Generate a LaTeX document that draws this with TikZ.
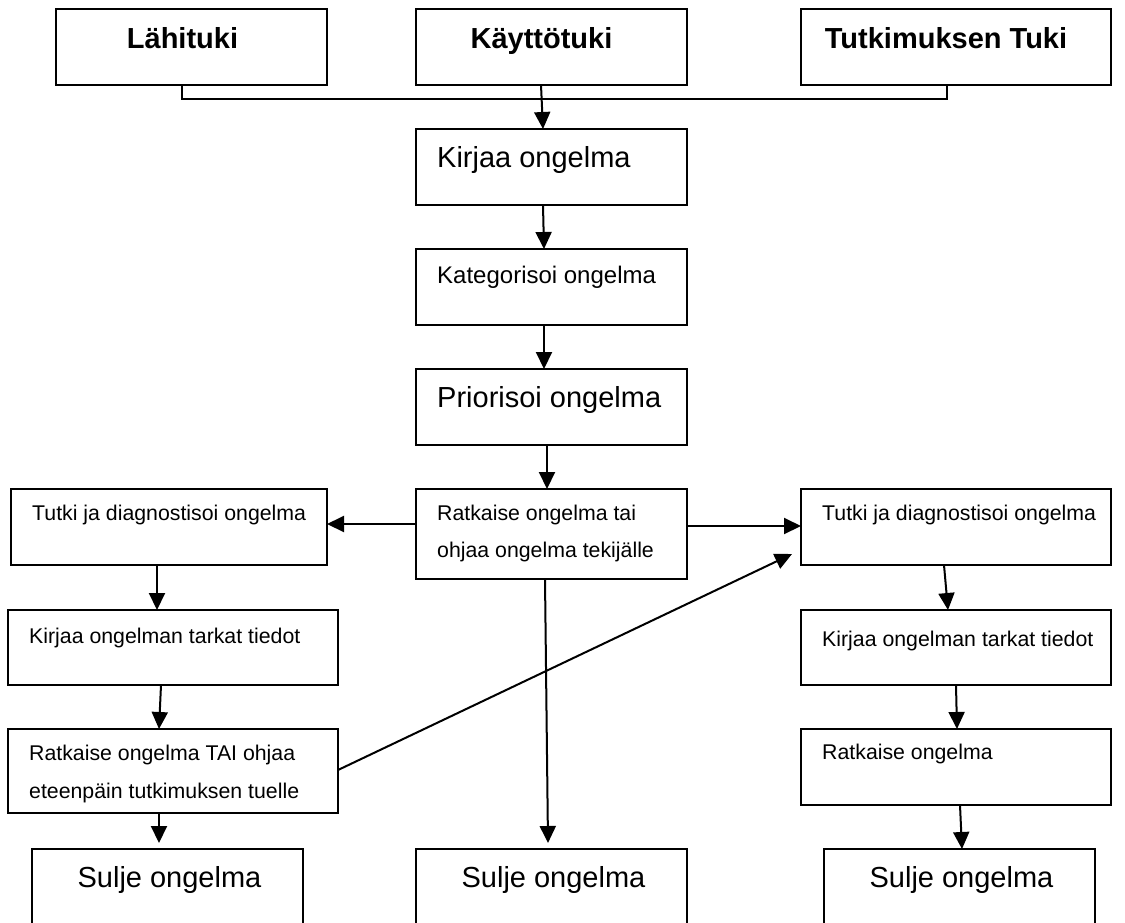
\documentclass[tikz,border=0pt]{standalone}
\usepackage{fontspec}
\setmainfont{Liberation Sans}
\usetikzlibrary{arrows.meta,calc}
\begin{document}
\begin{tikzpicture}[x=1pt,y=-1pt,
  box/.style={draw, line width=2.2pt, rectangle, anchor=north west, inner sep=0pt, outer sep=0pt},
  line/.style={line width=2.2pt},
  arr/.style={line width=2pt, -{Triangle[length=17pt,width=16pt]}},
  txt/.style={inner sep=0pt, anchor=base west, align=left},
  ctxt/.style={inner sep=0pt, anchor=base},
  bigb/.style={font=\fontsize{29}{35}\selectfont\bfseries},
  big/.style={font=\fontsize{29}{35}\selectfont},
  med/.style={font=\fontsize{24}{29}\selectfont},
  sml/.style={font=\fontsize{21.3}{37.5}\selectfont}]
\useasboundingbox (0,0) rectangle (1125,922);
\fill[white] (0,0) rectangle (1125,922);
\clip (0,0) rectangle (1125,922);
% top row
\node[box, minimum width=271pt, minimum height=76pt] (lahi) at (56,9) {};
\node[box, minimum width=271pt, minimum height=76pt] (kayt) at (416,9) {};
\node[box, minimum width=310pt, minimum height=76pt] (tutk) at (801,9) {};
\node[ctxt, bigb] (tlahi) at ($(lahi.north)+(-9,39)$) {Lähituki};
\node[ctxt, bigb] (tkayt) at ($(kayt.north)+(-10,39)$) {Käyttötuki};
\node[ctxt, bigb] (ttutk) at ($(tutk.north)+(-10,39)$) {Tutkimuksen Tuki};
% middle column
\node[box, minimum width=271pt, minimum height=76pt] (kirjaa) at (416,129) {};
\node[box, minimum width=271pt, minimum height=76pt] (kateg) at (416,249) {};
\node[box, minimum width=271pt, minimum height=76pt] (prior) at (416,369) {};
\node[box, minimum width=271pt, minimum height=90pt] (ratk) at (416,489) {};
\node[box, minimum width=271pt, minimum height=100pt] (suljeM) at (416,849) {};
\node[txt, big] (tkirjaa) at ($(kirjaa.north west)+(21,38)$) {Kirjaa ongelma};
\node[txt, med] (tkateg) at ($(kateg.north west)+(21,34)$) {Kategorisoi ongelma};
\node[txt, big] (tprior) at ($(prior.north west)+(21,38)$) {Priorisoi ongelma};
\node[txt, sml] (tratk) at ($(ratk.north west)+(21,68.5)$) {Ratkaise ongelma tai\\ohjaa ongelma tekijälle};
\node[ctxt, big] (tsuljeM) at ($(suljeM.north)+(2,38)$) {Sulje ongelma};
% left column
\node[box, minimum width=316pt, minimum height=76pt] (tutkL) at (11,489) {};
\node[box, minimum width=330pt, minimum height=75pt] (kirjL) at (8,610) {};
\node[box, minimum width=330pt, minimum height=84pt] (ratkL) at (8,729) {};
\node[box, minimum width=271pt, minimum height=100pt] (suljeL) at (32,849) {};
\node[txt, sml] (ttutkL) at ($(tutkL.north west)+(21,31)$) {Tutki ja diagnostisoi ongelma};
\node[txt, sml] (tkirjL) at ($(kirjL.north west)+(21,33)$) {Kirjaa ongelman tarkat tiedot};
\node[txt, sml] (tratkL) at ($(ratkL.north west)+(21,69)$) {Ratkaise ongelma TAI ohjaa\\eteenpäin tutkimuksen tuelle};
\node[ctxt, big] (tsuljeL) at ($(suljeL.north)+(2,38)$) {Sulje ongelma};
% right column
\node[box, minimum width=310pt, minimum height=76pt] (tutkR) at (801,489) {};
\node[box, minimum width=310pt, minimum height=75pt] (kirjR) at (801,610) {};
\node[box, minimum width=310pt, minimum height=76pt] (ratkR) at (801,729) {};
\node[box, minimum width=271pt, minimum height=100pt] (suljeR) at (824,849) {};
\node[txt, sml] (ttutkR) at ($(tutkR.north west)+(21,31)$) {Tutki ja diagnostisoi ongelma};
\node[txt, sml] (tkirjR) at ($(kirjR.north west)+(21,36)$) {Kirjaa ongelman tarkat tiedot};
\node[txt, sml] (tratkR) at ($(ratkR.north west)+(21,30)$) {Ratkaise ongelma};
\node[ctxt, big] (tsuljeR) at ($(suljeR.north)+(2,38)$) {Sulje ongelma};
% connectors
\draw[line] ($(lahi.south west)+(126,0)$) -- ++(0,14) -| ($(tutk.south west)+(146,0)$);
\draw[arr] ($(kayt.south west)+(125,0)$) -- ($(kirjaa.north west)+(127,0)$);
\draw[arr] ($(kirjaa.south west)+(127,0)$) -- ($(kateg.north west)+(128,0)$);
\draw[arr] ($(kateg.south west)+(128,0)$) -- ($(prior.north west)+(128,0)$);
\draw[arr] ($(prior.south west)+(131,0)$) -- ($(ratk.north west)+(131,0)$);
\draw[arr] ($(ratk.north west)+(0,35)$) -- ($(tutkL.north east)+(0,35)$);
\draw[arr] ($(ratk.north east)+(0,37)$) -- ($(tutkR.north west)+(0,37)$);
\draw[arr] ($(ratk.south west)+(129,0)$) -- ($(suljeM.north west)+(132,-6)$);
\draw[arr] ($(tutkL.south west)+(146,0)$) -- ($(kirjL.north west)+(149,0)$);
\draw[arr] ($(kirjL.south west)+(153,0)$) -- ($(ratkL.north west)+(151,0)$);
\draw[arr] ($(ratkL.south west)+(151,0)$) -- ($(suljeL.north west)+(127,-6)$);
\draw[arr] ($(ratkL.north east)+(0,41)$) -- ($(tutkR.north west)+(-9,65)$);
\draw[arr] ($(tutkR.south west)+(143,0)$) -- ($(kirjR.north west)+(147,0)$);
\draw[arr] ($(kirjR.south west)+(155,0)$) -- ($(ratkR.north west)+(156,0)$);
\draw[arr] ($(ratkR.south west)+(159,0)$) -- ($(suljeR.north west)+(138,0)$);
\end{tikzpicture}
\end{document}
